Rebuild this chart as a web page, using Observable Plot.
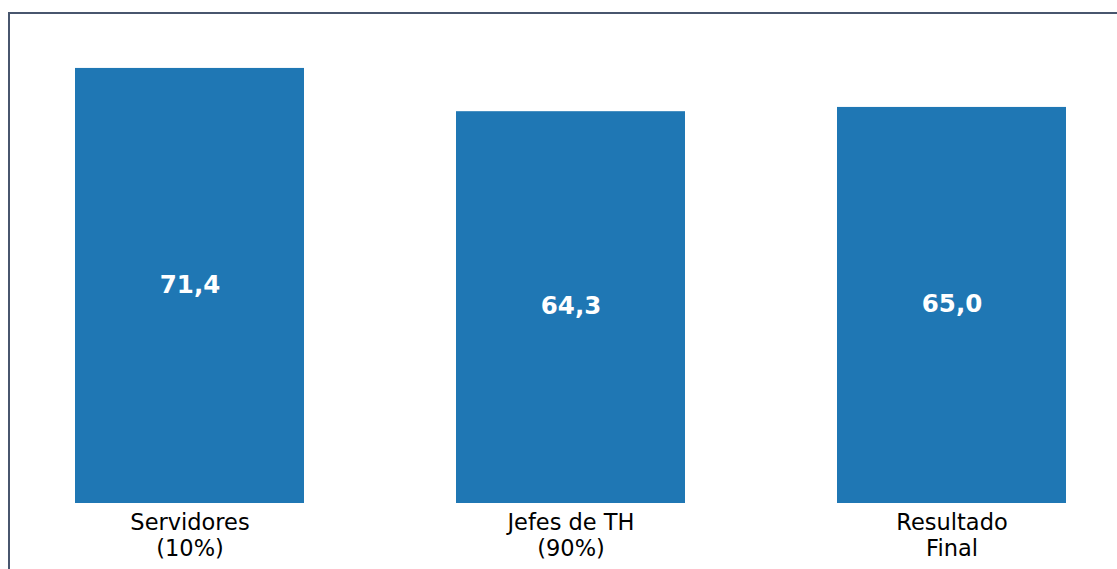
<!DOCTYPE html>
<html>
<head>
<meta charset="utf-8">
<script src="https://cdn.jsdelivr.net/npm/d3@7"></script>
<script src="https://cdn.jsdelivr.net/npm/@observablehq/plot@0.6"></script>
<style>
  html, body { margin: 0; padding: 0; background: #fff; overflow: hidden; }
  #frame { position: absolute; left: 8px; top: 12px; width: 3000px; height: 3000px;
           border-left: 2px solid #48566e; border-top: 2px solid #48566e; box-sizing: border-box; }
  #chart { position: absolute; left: 0; top: 0; }
</style>
</head>
<body>
<div id="frame"></div>
<div id="chart"></div>
<script>
const categories = ["Servidores\n(10%)", "Jefes de TH\n(90%)", "Resultado\nFinal"];
const values = [71.4, 64.3, 65.0];
const labels = ["71,4", "64,3", "65,0"];

const data = categories.map((c, i) => ({category: c, value: values[i], label: labels[i]}));

const chart = Plot.plot({
  width: 1117,
  height: 569,
  marginLeft: 75,
  marginRight: 51,
  marginTop: 46,
  marginBottom: 66,
  style: {fontFamily: "DejaVu Sans", background: "transparent", overflow: "visible"},
  x: {domain: categories, paddingInner: 0.4, paddingOuter: 0, label: null},
  y: {domain: [0, 75], axis: null},
  marks: [
    Plot.barY(data, {x: "category", y: "value", fill: "#1f77b4"}),
    Plot.text(data, {x: "category", y: d => d.value / 2, text: "label", fill: "white",
      fontSize: 24.5, fontWeight: "bold", dy: -1}),
    Plot.axisX({tickSize: 0, tickPadding: 8, fontSize: 22.5, lineHeight: 1.15, fill: "black", label: null})
  ]
});
document.getElementById("chart").appendChild(chart);
</script>
</body>
</html>
